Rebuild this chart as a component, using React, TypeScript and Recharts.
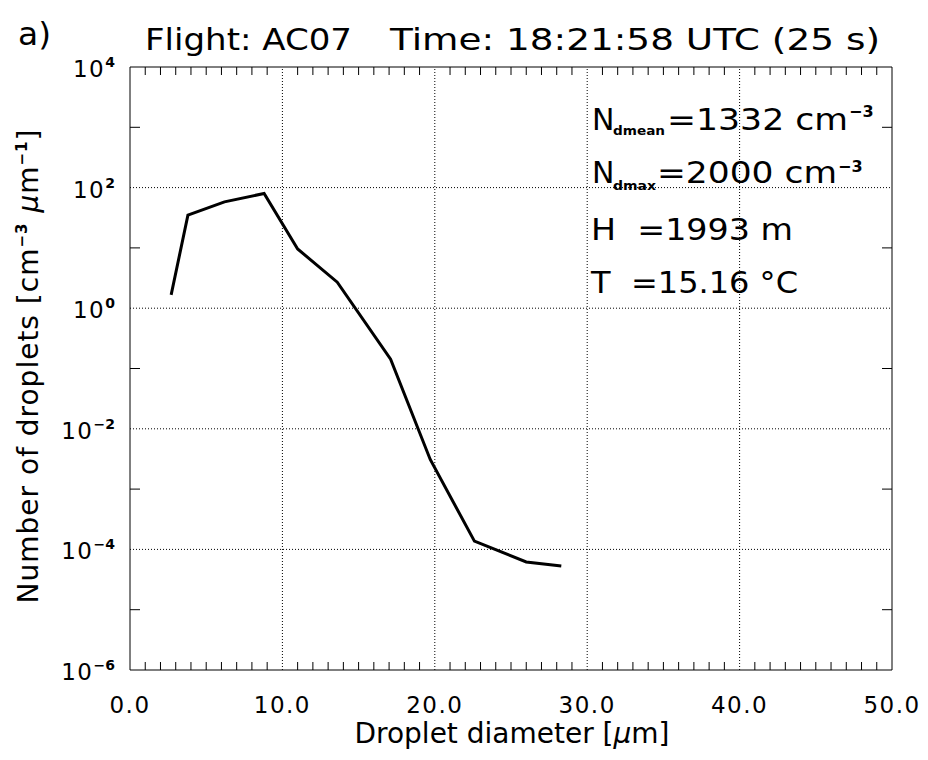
import { LineChart, Line, XAxis, YAxis, ReferenceLine } from "recharts";

// droplet size distribution
const diameters = [2.7, 3.8, 6.2, 8.8, 11.0, 13.6, 17.1, 19.7, 22.6, 26.0, 28.3];
const concentrations = [1.66, 35, 58, 80, 9.6, 2.7, 0.143, 0.0031, 1.37e-4, 6.2e-5, 5.3e-5];

const xTicks = Array.from({ length: 51 }, (_, i) => i);
const yTicks = [1e-6, 1e-5, 1e-4, 1e-3, 1e-2, 1e-1, 1, 10, 100, 1e3, 1e4];
const xGrid = [10, 20, 30, 40];
const yGrid = [1e-4, 1e-2, 1, 100];

const data = diameters.map((d, i) => ({ d, n: concentrations[i] }));

const FONT = "DejaVu Sans";

const expOf = (v: number) => Math.round(Math.log10(v));
const supText = (e: number) => (e < 0 ? `\u2212${-e}` : `${e}`);

const BottomTick = (props: any) => {
  const { x, y, payload } = props;
  const v = payload.value;
  if (v % 10 === 0) {
    return (
      <text
        x={x}
        y={y + 43}
        textAnchor="middle"
        fontSize={23}
        letterSpacing={1.5}
        fontFamily={FONT}
        fill="#000"
      >
        {v.toFixed(1)}
      </text>
    );
  }
  return <line x1={x} x2={x} y1={y} y2={y - 8} stroke="#000" />;
};

const TopTick = (props: any) => {
  const { x, y, payload } = props;
  if (payload.value % 10 === 0) return <g />;
  return <line x1={x} x2={x} y1={y} y2={y + 8} stroke="#000" />;
};

const LeftTick = (props: any) => {
  const { x, y, payload } = props;
  const e = expOf(payload.value);
  if (e % 2 !== 0) return <line x1={x} x2={x + 10} y1={y} y2={y} stroke="#000" />;
  return (
    <text
      x={x - 15}
      y={y + 10}
      textAnchor="end"
      fontSize={23}
      letterSpacing={1.5}
      fontFamily={FONT}
      fill="#000"
    >
      10
      <tspan dy={-10} fontSize={14} fontWeight="bold" letterSpacing={0}>
        {supText(e)}
      </tspan>
    </text>
  );
};

const RightTick = (props: any) => {
  const { x, y, payload } = props;
  const e = expOf(payload.value);
  if (e % 2 === 0) return <g />;
  return <line x1={x} x2={x - 10} y1={y} y2={y} stroke="#000" />;
};

function Overlay() {
  return (
    <svg
      width={920}
      height={752}
      style={{ position: "absolute", left: 0, top: 0, pointerEvents: "none" }}
      fontFamily={FONT}
      fill="#000"
    >
      <text x={10} y={37} fontSize={32} textLength={33} lengthAdjust="spacingAndGlyphs">a)</text>
      <text x={137} y={42} fontSize={30} textLength={207} lengthAdjust="spacingAndGlyphs">
        Flight: AC07
      </text>
      <text x={382} y={42} fontSize={30} textLength={490} lengthAdjust="spacingAndGlyphs">
        Time: 18:21:58 UTC (25 s)
      </text>

      <text x={504} y={735} fontSize={28} textAnchor="middle">
        Droplet diameter [<tspan fontStyle="italic">μ</tspan>m]
      </text>

      <text
        x={30}
        y={358}
        fontSize={28}
        letterSpacing={1}
        textAnchor="middle"
        transform="rotate(-90 30 358)"
      >
        Number of droplets [cm
        <tspan dy={-11} fontSize={15} fontWeight="bold">{"\u22123"}</tspan>
        <tspan dy={11}> </tspan>
        <tspan fontStyle="italic">μ</tspan>m
        <tspan dy={-11} fontSize={15} fontWeight="bold">{"\u22121"}</tspan>
        <tspan dy={11}>]</tspan>
      </text>

      {/* annotation block */}
      <text x={584} y={122} fontSize={30}>N</text>
      <text x={605} y={127} fontSize={12} fontWeight="bold" textLength={52} lengthAdjust="spacingAndGlyphs">dmean</text>
      <text x={659} y={122} fontSize={30} textLength={181} lengthAdjust="spacingAndGlyphs">=1332 cm</text>
      <text x={841} y={109} fontSize={16} fontWeight="bold">{"\u22123"}</text>

      <text x={584} y={175} fontSize={30}>N</text>
      <text x={605} y={182} fontSize={12} fontWeight="bold" textLength={43} lengthAdjust="spacingAndGlyphs">dmax</text>
      <text x={649} y={175} fontSize={30} textLength={180} lengthAdjust="spacingAndGlyphs">=2000 cm</text>
      <text x={830} y={164} fontSize={16} fontWeight="bold">{"\u22123"}</text>

      <text x={583} y={232} fontSize={30} textLength={202} lengthAdjust="spacingAndGlyphs" style={{ whiteSpace: "pre" }}>
        {"H  =1993 m"}
      </text>
      <text x={583} y={285} fontSize={30} textLength={207} lengthAdjust="spacingAndGlyphs" style={{ whiteSpace: "pre" }}>
        {"T  =15.16 °C"}
      </text>
    </svg>
  );
}

export default function App() {
  return (
    <div style={{ position: "relative", width: 920, height: 752 }}>
      <LineChart
        width={920}
        height={752}
        data={data}
        margin={{ top: 49, right: 26, left: 42, bottom: 10 }}
      >
        <XAxis
          xAxisId="b"
          dataKey="d"
          type="number"
          domain={[0, 50]}
          ticks={xTicks}
          interval={0}
          height={80}
          tickSize={0}
          tickMargin={0}
          tickLine={false}
          axisLine={{ stroke: "#000" }}
          tick={BottomTick}
        />
        <XAxis
          xAxisId="t"
          orientation="top"
          dataKey="d"
          type="number"
          domain={[0, 50]}
          ticks={xTicks}
          interval={0}
          height={10}
          tickSize={0}
          tickMargin={0}
          tickLine={false}
          axisLine={{ stroke: "#000" }}
          tick={TopTick}
        />
        <YAxis
          yAxisId="l"
          type="number"
          scale="log"
          domain={[1e-6, 1e4]}
          allowDataOverflow
          ticks={yTicks}
          interval={0}
          width={80}
          tickSize={0}
          tickMargin={0}
          tickLine={false}
          axisLine={{ stroke: "#000" }}
          tick={LeftTick}
        />
        <YAxis
          yAxisId="r"
          orientation="right"
          type="number"
          scale="log"
          domain={[1e-6, 1e4]}
          allowDataOverflow
          ticks={yTicks}
          interval={0}
          width={10}
          tickSize={0}
          tickMargin={0}
          tickLine={false}
          axisLine={{ stroke: "#000" }}
          tick={RightTick}
        />
        {xGrid.map((v) => (
          <ReferenceLine
            key={`x${v}`}
            x={v}
            xAxisId="b"
            yAxisId="l"
            stroke="#000"
            strokeDasharray="1 2"
          />
        ))}
        {yGrid.map((v) => (
          <ReferenceLine
            key={`y${v}`}
            y={v}
            xAxisId="b"
            yAxisId="l"
            stroke="#000"
            strokeDasharray="1 2"
          />
        ))}
        <Line
          xAxisId="b"
          yAxisId="l"
          type="linear"
          dataKey="n"
          stroke="#000"
          strokeWidth={3}
          dot={false}
          isAnimationActive={false}
        />
      </LineChart>
      <Overlay />
    </div>
  );
}
